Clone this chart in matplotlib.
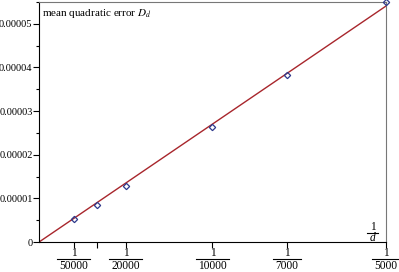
import numpy as np
import matplotlib
matplotlib.use("Agg")
from matplotlib import pyplot as plt
from matplotlib.ticker import MultipleLocator

# data: d values and measured mean quadratic error
d_vals = [50000, 30000, 20000, 10000, 7000, 5000]
err = [5.3e-6, 8.4e-6, 1.28e-5, 2.63e-5, 3.82e-5, 5.5e-5]

xtick_d = [50000, 30000, 20000, 10000, 7000, 5000]
xtick_den = ["50000", "", "20000", "10000", "7000", "5000"]
ytick_vals = [0, 1e-5, 2e-5, 3e-5, 4e-5, 5e-5]
ytick_labels = ["0", "0.00001", "0.00002", "0.00003", "0.00004", "0.00005"]

plt.rcParams['font.family'] = ['Liberation Serif', 'DejaVu Serif']
plt.rcParams['mathtext.fontset'] = 'stix'

x = 1.0 / np.array(d_vals)
y = np.array(err)
slope = np.sum(x * y) / np.sum(x * x)  # fit through origin

fig = plt.figure(figsize=(3.99, 2.72), dpi=100)
ax = fig.add_axes([0.0977, 0.110, 0.8697, 0.883])
AW = 0.8697 * 399   # axes width in px
AH = 0.883 * 272    # axes height in px
XMAX = 1 / 5000

xl = np.array([0, XMAX])
ax.plot(xl, slope * xl, color='#a8262c', lw=1.0, zorder=2)
ax.plot(x, y, ls='none', marker='D', ms=3.2, mfc='none', mec='#2e3a8c', mew=0.9,
        clip_on=False, zorder=3)

ax.set_xlim(0, XMAX)
ax.set_ylim(0, 5.5e-5)

ax.set_xticks(1.0 / np.array(xtick_d))
ax.set_xticklabels([""] * len(xtick_d))
ax.set_yticks(ytick_vals)
ax.set_yticklabels(ytick_labels, fontsize=7.5)
ax.yaxis.set_minor_locator(MultipleLocator(5e-6))
ax.tick_params(direction='out', length=4, width=0.8, pad=0.6)
ax.tick_params(which='minor', direction='out', length=2, width=0.8)

for s in ['top', 'right']:
    ax.spines[s].set_color('#777777')
for s in ['left', 'bottom']:
    ax.spines[s].set_color('black')


def frac(xc, den, y_num, y_bar, y_den, half_w, italic=False):
    tr = ax.get_xaxis_transform()
    ax.text(xc, y_num / AH, "1", transform=tr, ha='center', va='baseline',
            fontsize=8.3, clip_on=False)
    ax.text(xc, y_den / AH, den, transform=tr, ha='center', va='baseline',
            fontsize=8.3, style='italic' if italic else 'normal', clip_on=False)
    hw = half_w * XMAX / AW
    ax.plot([xc - hw, xc + hw], [y_bar / AH] * 2, transform=tr, color='black',
            lw=0.8, clip_on=False)


for dv, den in zip(xtick_d, xtick_den):
    if den:
        frac(1.0 / dv, den, -14, -17, -26.5, len(den) * 2.8 + 2.5)

frac(XMAX * (372.7 - 39) / AW, "d", 12, 9, 1.5, 5.5, italic=True)

ax.text(0.01, 1 - 14 / AH, r"mean quadratic error $D_d$", transform=ax.transAxes,
        ha='left', va='baseline', fontsize=8)

fig.savefig("out.png", dpi=100)
